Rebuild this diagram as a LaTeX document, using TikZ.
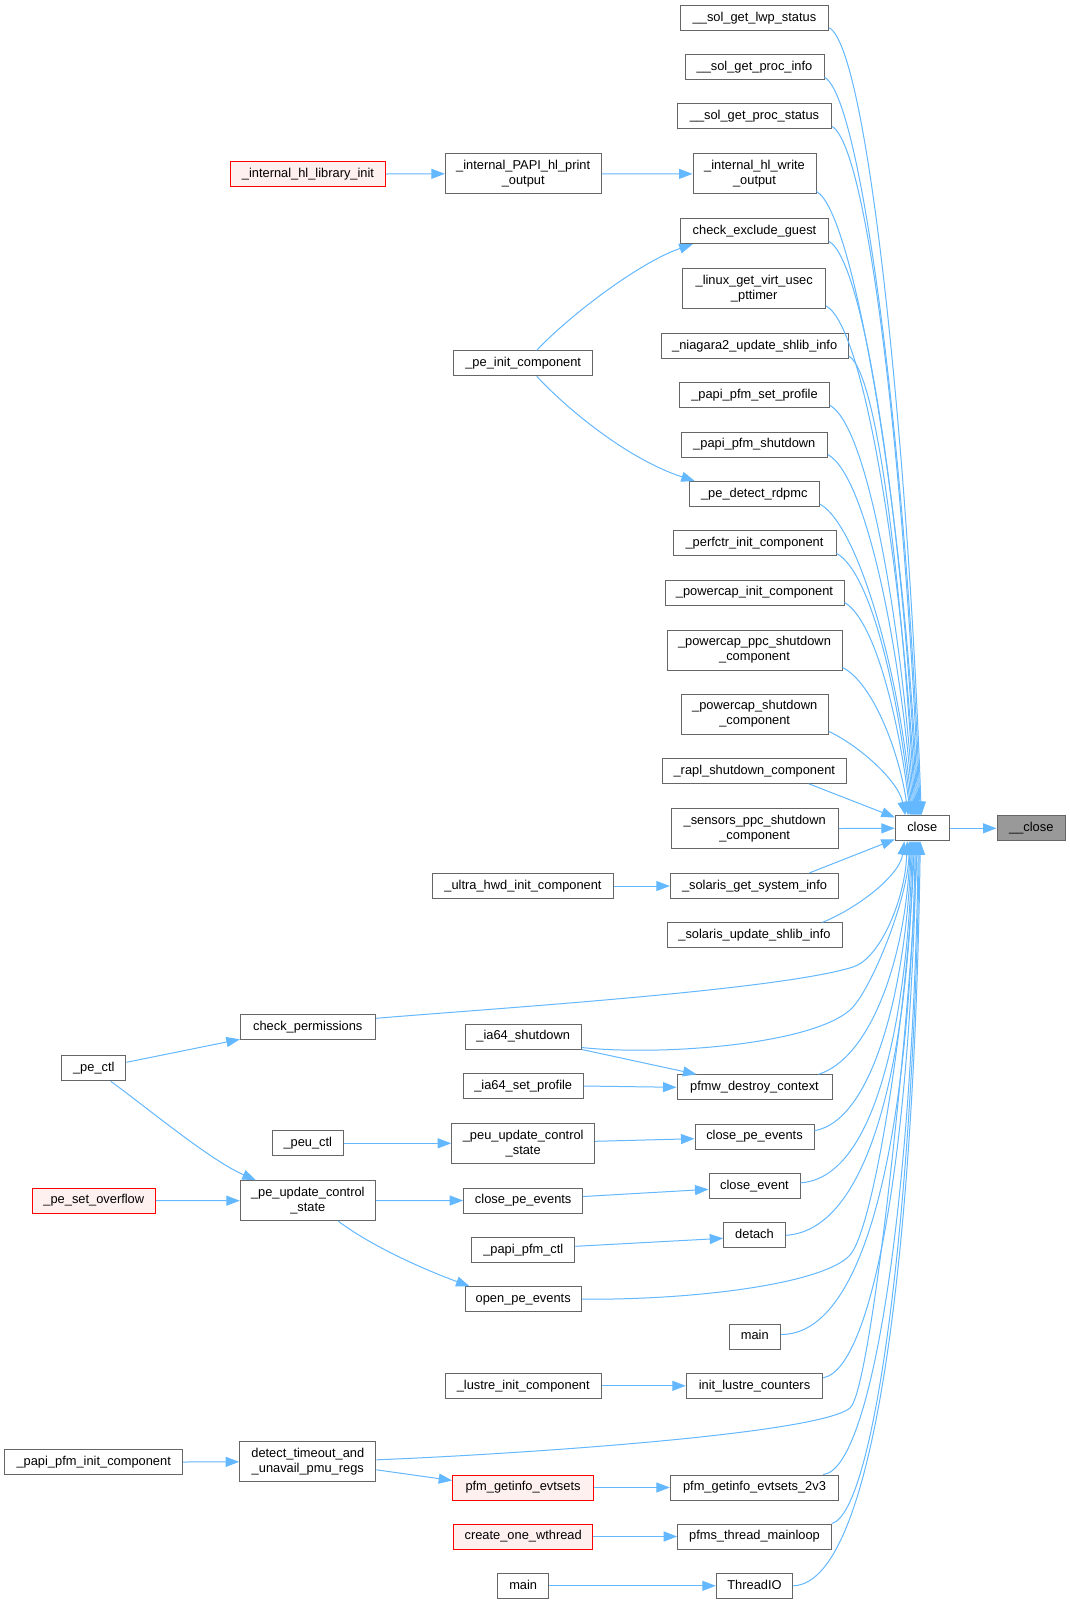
\documentclass[tikz,border=0pt]{standalone}
\usepackage{fontspec}
\setmainfont{Liberation Sans}
\usetikzlibrary{arrows.meta,calc}
\definecolor{edgec}{HTML}{63B8FF}
\definecolor{nodeb}{HTML}{666666}
\definecolor{redb}{HTML}{FF0000}
\definecolor{redf}{HTML}{FFF0F0}
\definecolor{grayf}{HTML}{999999}
\newcommand\dfont{\fontsize{12.85pt}{15pt}\selectfont}
\tikzset{
  nd/.style={draw=nodeb, line width=1pt, fill=white, rectangle, inner sep=0pt,
    minimum height=25pt, text height=9.5pt, text depth=3pt, font=\dfont},
  ndd/.style={draw=nodeb, line width=1pt, fill=white, rectangle, inner sep=0pt,
    minimum height=40pt, align=center, font=\dfont},
  redn/.style={draw=redb, fill=redf},
  grayn/.style={fill=grayf},
  edg/.style={draw=edgec, line width=1pt, -{Triangle[length=13.5pt,width=10pt]}}
}
\begin{document}
\begin{tikzpicture}[x=1pt,y=-1pt]
\fill[white] (0,0) rectangle (1069,1604);
\useasboundingbox (0,0) rectangle (1069,1604);

% right column
\node[nd, minimum width=148.4pt] (sollwp) at (754.5,17.8) {\_\_sol\_get\_lwp\_status};
\node[nd, minimum width=139pt] (solinfo) at (754.5,67.2) {\_\_sol\_get\_proc\_info};
\node[nd, minimum width=153.6pt] (solstat) at (754.5,116.3) {\_\_sol\_get\_proc\_status};
\node[ndd, minimum width=123pt] (hlwrite) at (754.5,173.9) {\_internal\_hl\_write\\\_output};
\node[nd, minimum width=147.6pt] (chkguest) at (754.5,231.2) {check\_exclude\_guest};
\node[ndd, minimum width=143pt] (linux) at (754.2,288.5) {\_linux\_get\_virt\_usec\\\_pttimer};
\node[nd, minimum width=187.3pt] (niagara) at (754.7,346) {\_niagara2\_update\_shlib\_info};
\node[nd, minimum width=149.6pt] (pfmsetprof) at (754.5,395.2) {\_papi\_pfm\_set\_profile};
\node[nd, minimum width=146pt] (pfmshut) at (754.3,444.5) {\_papi\_pfm\_shutdown};
\node[nd, minimum width=130pt] (rdpmc) at (754.3,494) {\_pe\_detect\_rdpmc};
\node[nd, minimum width=163pt] (perfctr) at (754.5,543.3) {\_perfctr\_init\_component};
\node[nd, minimum width=179pt] (pcinit) at (754.5,592.5) {\_powercap\_init\_component};
\node[ndd, minimum width=175pt] (pcppc) at (754.5,650) {\_powercap\_ppc\_shutdown\\\_component};
\node[ndd, minimum width=147.3pt] (pcshut) at (754.7,714) {\_powercap\_shutdown\\\_component};
\node[nd, minimum width=184pt] (rapl) at (754.3,770.8) {\_rapl\_shutdown\_component};
\node[ndd, minimum width=167.3pt] (sensors) at (754.7,828.5) {\_sensors\_ppc\_shutdown\\\_component};
\node[nd, minimum width=168.4pt] (solsys) at (754.5,886) {\_solaris\_get\_system\_info};
\node[nd, minimum width=175pt] (solupd) at (754.5,935.3) {\_solaris\_update\_shlib\_info};
\node[nd, minimum width=155pt] (pfmw) at (754.5,1087.3) {pfmw\_destroy\_context};
\node[nd, minimum width=119pt] (cpe2) at (754.5,1136.7) {close\_pe\_events};
\node[nd, minimum width=91pt] (closeev) at (754.5,1185.8) {close\_event};
\node[nd, minimum width=61.6pt] (detach) at (754.5,1235.3) {detach};
\node[nd, minimum width=51pt] (main1) at (754.8,1336.5) {main};
\node[nd, minimum width=136.4pt] (initlustre) at (754.5,1385.8) {init\_lustre\_counters};
\node[nd, minimum width=168.4pt] (evt2v3) at (754.5,1487.5) {pfm\_getinfo\_evtsets\_2v3};
\node[nd, minimum width=153.6pt] (pfmsloop) at (754.5,1536.5) {pfms\_thread\_mainloop};
\node[nd, minimum width=76.4pt] (threadio) at (754.5,1585.8) {ThreadIO};

\node[nd, minimum width=54pt] (close) at (922.3,828.3) {close};
\node[nd, grayn, minimum width=68.6pt] (uclose) at (1031.3,828.3) {\_\_close};

% middle column
\node[ndd, minimum width=155.7pt] (hlprint) at (523.2,173.8) {\_internal\_PAPI\_hl\_print\\\_output};
\node[nd, minimum width=139pt] (peinit) at (523.2,363.3) {\_pe\_init\_component};
\node[nd, minimum width=180.6pt] (ultra) at (523,886) {\_ultra\_hwd\_init\_component};
\node[nd, minimum width=116.3pt] (ia64shut) at (523.2,1036.5) {\_ia64\_shutdown};
\node[nd, minimum width=120.3pt] (ia64prof) at (523.2,1086) {\_ia64\_set\_profile};
\node[ndd, minimum width=143pt] (peuupd) at (523.2,1143.3) {\_peu\_update\_control\\\_state};
\node[nd, minimum width=119pt] (cpe1) at (523.2,1200.5) {close\_pe\_events};
\node[nd, minimum width=103.3pt] (papipfmctl) at (523.3,1249.8) {\_papi\_pfm\_ctl};
\node[nd, minimum width=116.3pt] (openpe) at (523.2,1299.2) {open\_pe\_events};
\node[nd, minimum width=156.3pt] (lustreinit) at (523.2,1385.8) {\_lustre\_init\_component};
\node[nd, redn, minimum width=140.6pt] (evtsets) at (523,1487.5) {pfm\_getinfo\_evtsets};
\node[nd, redn, minimum width=139pt] (createwt) at (523.2,1536.5) {create\_one\_wthread};
\node[nd, minimum width=51pt] (main2) at (523.2,1585.8) {main};

% left-middle column
\node[nd, redn, minimum width=155.4pt] (hlinit) at (308,174) {\_internal\_hl\_library\_init};
\node[nd, minimum width=135pt] (chkperm) at (307.8,1027.3) {check\_permissions};
\node[nd, minimum width=71pt] (peuctl) at (307.8,1143.3) {\_peu\_ctl};
\node[ndd, minimum width=135pt] (peupd) at (307.8,1200.7) {\_pe\_update\_control\\\_state};
\node[ndd, minimum width=136.3pt] (detect) at (307.8,1461.8) {detect\_timeout\_and\\\_unavail\_pmu\_regs};

% far left column
\node[nd, minimum width=64.3pt] (pectl) at (93.8,1068.3) {\_pe\_ctl};
\node[nd, redn, minimum width=123pt] (peoverflow) at (93.8,1200.5) {\_pe\_set\_overflow};
\node[nd, minimum width=178pt] (papipfminit) at (93.7,1462) {\_papi\_pfm\_init\_component};

% straight edges
\draw[edg] (hlinit.east) -- (hlprint.west);
\draw[edg] (hlprint.east) -- (hlwrite.west);
\draw[edg] (ultra.east) -- (solsys.west);
\draw[edg] (ia64prof.east) -- (pfmw.west);
\draw[edg] (peuctl.east) -- (peuupd.west);
\draw[edg] ($(peuupd.east)+(0,-2)$) -- ($(cpe2.west)+(0,2)$);
\draw[edg] (peoverflow.east) -- (peupd.west);
\draw[edg] (peupd.east) -- (cpe1.west);
\draw[edg] ($(cpe1.east)+(0,-4)$) -- ($(closeev.west)+(0,3.5)$);
\draw[edg] ($(papipfmctl.east)+(0,-3.5)$) -- ($(detach.west)+(0,3)$);
\draw[edg] (lustreinit.east) -- (initlustre.west);
\draw[edg] (evtsets.east) -- (evt2v3.west);
\draw[edg] (createwt.east) -- (pfmsloop.west);
\draw[edg] (main2.east) -- (threadio.west);
\draw[edg] (papipfminit.east) -- (detect.west);
\draw[edg] ($(detect.east)+(0,8)$) -- ($(evtsets.west)+(0,-7)$);
\draw[edg] ($(pectl.east)+(0,-6)$) -- ($(chkperm.south west)+(0,-1)$);
\draw[edg] (ia64shut.south east) -- ($(pfmw.north west)+(20,0)$);
\draw[edg] (sensors.east) -- (close.west);
\draw[edg] (close.east) -- (uclose.west);
\draw[edg] ($(rapl.south east)+(-38,0)$) -- ($(close.north west)+(0,2)$);
\draw[edg] ($(solsys.north east)+(-30,0)$) -- ($(close.south west)+(0,-2)$);

% curved side edges
\draw[edg] ($(peinit.north)+(13.5,0)$) .. controls (570,315) and (640,262) .. ($(chkguest.south west)+(12.5,0)$);
\draw[edg] ($(peinit.south)+(13.5,0)$) .. controls (570,412) and (630,460) .. ($(rdpmc.north west)+(6,0)$);
\draw[edg] ($(pectl.south)+(17,0)$) .. controls (150,1110) and (210,1160) .. ($(peupd.north west)+(16,0)$);
\draw[edg] ($(peupd.south)+(30.5,0)$) .. controls (370,1245) and (420,1268) .. ($(openpe.north west)+(5,0)$);

% fan into close from above
\draw[edg] ($(sollwp.south east)+(0,-3)$) .. controls (869,49) and (909,461) .. ($(close.north)+(-1,0)$);
\draw[edg] ($(solinfo.south east)+(0,-3)$) .. controls (864,99) and (908,483) .. ($(close.north)+(-2,0)$);
\draw[edg] ($(solstat.south east)+(0,-3)$) .. controls (871,148) and (907,506) .. ($(close.north)+(-3,0)$);
\draw[edg] ($(hlwrite.south east)+(0,-3)$) .. controls (856,213) and (906,535) .. ($(close.north)+(-4,0)$);
\draw[edg] ($(chkguest.south east)+(0,-3)$) .. controls (868,263) and (905,557) .. ($(close.north)+(-5,0)$);
\draw[edg] ($(linux.south east)+(0,-3)$) .. controls (866,328) and (904,586) .. ($(close.north)+(-6,0)$);
\draw[edg] ($(niagara.south east)+(0,-3)$) .. controls (880,375) and (903,609) .. ($(close.north)+(-7,0)$);
\draw[edg] ($(pfmsetprof.south east)+(0,-3)$) .. controls (869,427) and (902,631) .. ($(close.north)+(-8,0)$);
\draw[edg] ($(pfmshut.south east)+(0,-3)$) .. controls (867,476) and (901,653) .. ($(close.north)+(-9,0)$);
\draw[edg] ($(rdpmc.south east)+(0,-3)$) .. controls (859,526) and (900,675) .. ($(close.north)+(-10,0)$);
\draw[edg] ($(perfctr.south east)+(0,-3)$) .. controls (872,573) and (899,698) .. ($(close.north)+(-11,0)$);
\draw[edg] ($(pcinit.south east)+(0,-3)$) .. controls (875,620) and (899,720) .. ($(close.north)+(-12,0)$);
\draw[edg] ($(pcppc.south east)+(0,-3)$) .. controls (872,682) and (899,750) .. ($(close.north)+(-14,0)$);
\draw[edg] ($(pcshut.south east)+(0,-3)$) .. controls (858,745) and (898,780) .. ($(close.north)+(-17,0)$);

% fan into close from below
\draw[edg] ($(solupd.north east)+(-20,0)$) .. controls (858,908) and (900,875) .. ($(close.south)+(-18,0)$);
\draw[edg] ($(chkperm.east)+(0,-9)$) .. controls (500,1008) and (780,990) .. (853,967) .. controls (880,958.5) and (905,900) .. ($(close.south)+(-15,0)$);
\draw[edg] ($(ia64shut.south east)+(0,-2)$) .. controls (660,1056) and (810,1045) .. (850,1010) .. controls (870,992.5) and (908,900) .. ($(close.south)+(-13,0)$);
\draw[edg] ($(pfmw.north east)+(-14,0)$) .. controls (870,1058) and (906,960) .. ($(close.south)+(-12,0)$);
\draw[edg] ($(cpe2.east)+(0,-6)$) .. controls (875,1120) and (907,980) .. ($(close.south)+(-11,0)$);
\draw[edg] ($(closeev.east)+(0,-3)$) .. controls (878,1178) and (908,1010) .. ($(close.south)+(-10,0)$);
\draw[edg] (detach.east) .. controls (875,1230) and (909,1040) .. ($(close.south)+(-9,0)$);
\draw[edg] (openpe.east) .. controls (700,1300) and (825,1283) .. (850,1255) .. controls (875,1227) and (909,1000) .. ($(close.south)+(-8,0)$);
\draw[edg] ($(main1.east)+(0,-2)$) .. controls (870,1335) and (910,1120) .. ($(close.south)+(-7,0)$);
\draw[edg] ($(initlustre.east)+(0,-8)$) .. controls (875,1368) and (911,1135) .. ($(close.south)+(-6,0)$);
\draw[edg] ($(detect.east)+(0,-2)$) .. controls (500,1455) and (817,1435) .. (850,1408) .. controls (872,1390) and (912,1000) .. ($(close.south)+(-5,0)$);
\draw[edg] ($(evt2v3.north east)+(-16,0)$) .. controls (872,1470) and (913,1200) .. ($(close.south)+(-4,0)$);
\draw[edg] (pfmsloop.north east) .. controls (876,1512) and (914,1200) .. ($(close.south)+(-3,0)$);
\draw[edg] (threadio.east) .. controls (880,1583) and (915,1213) .. ($(close.south)+(-2,0)$);
\end{tikzpicture}
\end{document}
